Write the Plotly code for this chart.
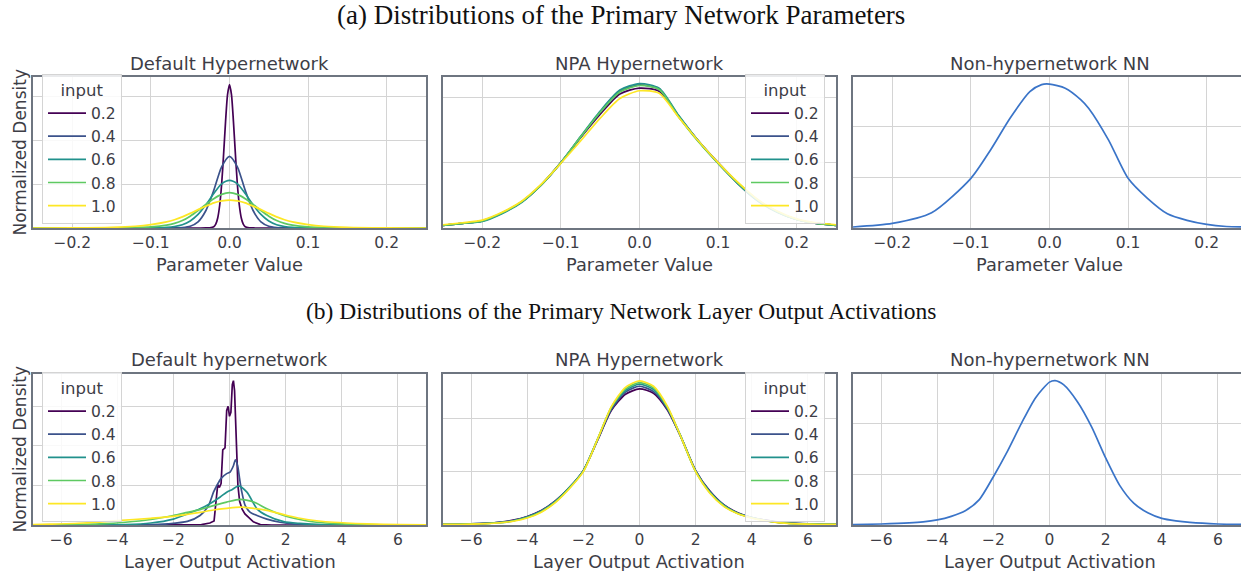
import plotly.graph_objects as go

W, H = 1241, 571

# ---------------- data ----------------
inputs = ["0.2", "0.4", "0.6", "0.8", "1.0"]
viridis = ["#440154", "#3b528b", "#21918c", "#5ec962", "#fde725"]
nn_color = "#3a74c8"

param_ticks = [-0.2, -0.1, 0.0, 0.1, 0.2]
param_ticktext = ["\u22120.2", "\u22120.1", "0.0", "0.1", "0.2"]
act_ticks = [-6, -4, -2, 0, 2, 4, 6]
act_ticktext = ["\u22126", "\u22124", "\u22122", "0", "2", "4", "6"]

# (a) Default Hypernetwork, parameter distributions
p1_x_narrow = [-0.25, -0.04, -0.03, -0.025, -0.02, -0.0175, -0.015, -0.0125, -0.01, -0.0075, -0.005, -0.0025, 0.0,
               0.0025, 0.005, 0.0075, 0.01, 0.0125, 0.015, 0.0175, 0.02, 0.025, 0.03, 0.04, 0.25]
p1_in02 = [0, 0, 0.001, 0.005, 0.03, 0.088, 0.23, 0.52, 1.00, 1.69, 2.44, 3.05, 3.28,
           3.05, 2.44, 1.69, 1.00, 0.52, 0.23, 0.088, 0.03, 0.005, 0.001, 0, 0]
p1_x = [-0.25, -0.2, -0.15, -0.12, -0.1, -0.08, -0.07, -0.06, -0.05, -0.04, -0.03, -0.02, -0.01, 0.0,
        0.01, 0.02, 0.03, 0.04, 0.05, 0.06, 0.07, 0.08, 0.1, 0.12, 0.15, 0.2, 0.25]
p1_in04 = [0, 0, 0, 0, 0, 0.001, 0.004, 0.012, 0.04, 0.14, 0.40, 0.86, 1.40, 1.64,
           1.40, 0.86, 0.40, 0.14, 0.04, 0.012, 0.004, 0.001, 0, 0, 0, 0, 0]
p1_in06 = [0, 0, 0, 0.001, 0.004, 0.016, 0.035, 0.075, 0.16, 0.31, 0.53, 0.79, 1.01, 1.09,
           1.01, 0.79, 0.53, 0.31, 0.16, 0.075, 0.035, 0.016, 0.004, 0.001, 0, 0, 0]
p1_in08 = [0, 0, 0.002, 0.01, 0.025, 0.065, 0.105, 0.17, 0.27, 0.40, 0.54, 0.67, 0.77, 0.81,
           0.77, 0.67, 0.54, 0.40, 0.27, 0.17, 0.105, 0.065, 0.025, 0.01, 0.002, 0, 0]
p1_in10 = [0, 0.003, 0.015, 0.04, 0.078, 0.14, 0.19, 0.255, 0.335, 0.42, 0.50, 0.575, 0.62, 0.64,
           0.62, 0.575, 0.50, 0.42, 0.335, 0.255, 0.19, 0.14, 0.078, 0.04, 0.015, 0.003, 0]

# (a) NPA Hypernetwork
p2_x = [-0.25, -0.225, -0.2, -0.175, -0.15, -0.125, -0.1, -0.075, -0.05, -0.025, 0.0,
        0.025, 0.05, 0.075, 0.1, 0.125, 0.15, 0.175, 0.2, 0.225, 0.25]
p2_in02 = [0.04, 0.07, 0.11, 0.23, 0.40, 0.66, 1.0, 1.38, 1.74, 2.05, 2.14, 2.09, 1.70, 1.33, 1.0, 0.69, 0.43, 0.25, 0.13, 0.07, 0.04]
p2_in04 = [0.04, 0.07, 0.11, 0.23, 0.40, 0.66, 1.0, 1.39, 1.77, 2.09, 2.19, 2.12, 1.71, 1.33, 0.99, 0.68, 0.42, 0.25, 0.13, 0.07, 0.04]
p2_in06 = [0.04, 0.07, 0.10, 0.22, 0.39, 0.66, 1.0, 1.40, 1.79, 2.11, 2.21, 2.14, 1.72, 1.33, 0.99, 0.68, 0.42, 0.24, 0.13, 0.07, 0.04]
p2_in08 = [0.04, 0.07, 0.11, 0.23, 0.40, 0.66, 1.0, 1.39, 1.77, 2.08, 2.18, 2.12, 1.70, 1.32, 0.99, 0.69, 0.43, 0.25, 0.13, 0.07, 0.04]
p2_in10 = [0.05, 0.08, 0.12, 0.24, 0.41, 0.67, 0.99, 1.33, 1.68, 1.98, 2.10, 2.06, 1.69, 1.33, 1.0, 0.70, 0.44, 0.26, 0.14, 0.08, 0.05]

# (a) Non-hypernetwork NN
p3_x = [-0.25, -0.2, -0.15, -0.1, -0.075, -0.05, -0.025, -0.01, 0.0, 0.02, 0.04, 0.05, 0.075,
        0.1, 0.125, 0.15, 0.175, 0.2, 0.225, 0.25]
p3_y = [0.02, 0.09, 0.30, 0.98, 1.54, 2.17, 2.69, 2.83, 2.84, 2.76, 2.53, 2.36, 1.74,
        0.98, 0.58, 0.28, 0.15, 0.07, 0.03, 0.02]

# (b) Default hypernetwork, activations
p4_x_in02 = [-7, -1.5, -1.0, -0.7, -0.55, -0.48, -0.42, -0.36, -0.3, -0.24, -0.16, -0.1, -0.05, 0.0, 0.05,
             0.1, 0.14, 0.18, 0.24, 0.3, 0.36, 0.45, 0.55, 0.7, 0.85, 1.1, 1.5, 7]
p4_in02 = [0, 0, 0.01, 0.05, 0.1, 0.6, 1.02, 0.95, 1.05, 1.9, 1.95, 2.9, 3.0, 2.75, 2.85,
           3.55, 3.65, 3.4, 2.0, 1.0, 0.6, 0.4, 0.28, 0.18, 0.08, 0.01, 0, 0]
p4_x_in04 = [-7, -3, -2.2, -1.5, -1.05, -0.75, -0.57, -0.45, -0.3, -0.1, 0.02, 0.14, 0.21, 0.29, 0.36,
             0.44, 0.56, 0.74, 0.98, 1.33, 1.8, 2.5, 3, 7]
p4_in04 = [0, 0.005, 0.03, 0.09, 0.24, 0.49, 0.83, 1.0, 1.18, 1.3, 1.34, 1.5, 1.65, 1.5, 1.17,
           0.83, 0.49, 0.32, 0.24, 0.15, 0.07, 0.01, 0, 0]
p4_x_in06 = [-7, -3.7, -2.8, -2, -1.5, -1.05, -0.7, -0.33, -0.1, 0.1, 0.32, 0.62, 0.98, 1.33, 1.93, 2.5, 3.1, 4.1, 7]
p4_in06 = [0, 0.01, 0.05, 0.15, 0.28, 0.41, 0.54, 0.71, 0.83, 0.9, 0.99, 0.83, 0.41, 0.24, 0.085, 0.04, 0.015, 0, 0]
p4_x_in08 = [-7, -5.8, -4.6, -3.7, -2.8, -2, -1.5, -1.05, -0.57, -0.1, 0.38, 0.86, 1.33, 1.93, 2.5, 3.1, 4, 4.9, 7]
p4_in08 = [0, 0.01, 0.03, 0.07, 0.14, 0.24, 0.32, 0.39, 0.49, 0.58, 0.65, 0.58, 0.41, 0.24, 0.14, 0.07, 0.03, 0.01, 0]
p4_x_in10 = [-7, -6.4, -5.2, -4, -2.8, -2, -1.05, -0.57, -0.1, 0.38, 0.86, 1.33, 2.05, 2.76, 3.7, 4.9, 6.1, 7]
p4_in10 = [0.01, 0.02, 0.05, 0.11, 0.17, 0.22, 0.32, 0.38, 0.42, 0.45, 0.42, 0.37, 0.24, 0.14, 0.07, 0.03, 0.01, 0.005]

# (b) NPA Hypernetwork, activations
p5_x = [-7, -6, -5, -4.5, -4, -3.5, -3, -2.5, -2, -1.5, -1, -0.5, 0, 0.5, 1, 1.5, 2, 2.5, 3, 3.5, 4, 4.5, 5, 6, 7]
p5_in02 = [0.01, 0.02, 0.05, 0.09, 0.16, 0.27, 0.45, 0.70, 1.02, 1.58, 2.15, 2.45, 2.55, 2.47, 2.15, 1.62, 1.02, 0.64, 0.38, 0.23, 0.14, 0.09, 0.05, 0.02, 0.01]
p5_in04 = [0.01, 0.02, 0.05, 0.085, 0.155, 0.265, 0.445, 0.70, 1.02, 1.59, 2.17, 2.49, 2.60, 2.50, 2.17, 1.62, 1.02, 0.63, 0.37, 0.22, 0.14, 0.085, 0.045, 0.02, 0.01]
p5_in06 = [0.01, 0.02, 0.045, 0.08, 0.15, 0.26, 0.44, 0.70, 1.02, 1.60, 2.20, 2.52, 2.64, 2.54, 2.19, 1.63, 1.01, 0.62, 0.37, 0.22, 0.14, 0.08, 0.045, 0.02, 0.01]
p5_in08 = [0.01, 0.018, 0.042, 0.075, 0.14, 0.25, 0.43, 0.69, 1.01, 1.60, 2.21, 2.55, 2.67, 2.57, 2.20, 1.62, 1.00, 0.61, 0.36, 0.215, 0.135, 0.08, 0.042, 0.018, 0.01]
p5_in10 = [0.01, 0.015, 0.04, 0.07, 0.13, 0.24, 0.42, 0.68, 1.0, 1.60, 2.22, 2.58, 2.70, 2.60, 2.22, 1.62, 1.0, 0.60, 0.35, 0.21, 0.13, 0.08, 0.04, 0.015, 0.01]

# (b) Non-hypernetwork NN, activations
p6_x = [-7, -6, -5, -4.5, -4, -3.5, -3, -2.5, -2, -1.5, -1, -0.5, 0, 0.2, 0.5, 1, 1.5, 2, 2.5, 3, 3.5, 4, 4.5, 5, 6, 7]
p6_y = [0.01, 0.02, 0.04, 0.06, 0.10, 0.17, 0.28, 0.50, 0.95, 1.45, 2.0, 2.5, 2.81, 2.84, 2.76, 2.42, 1.93, 1.32, 0.78, 0.43, 0.24, 0.13, 0.08, 0.05, 0.02, 0.01]

panel_titles = ["Default Hypernetwork", "NPA Hypernetwork", "Non-hypernetwork NN",
                "Default hypernetwork", "NPA Hypernetwork", "Non-hypernetwork NN"]
row_titles = ["(a) Distributions of the Primary Network Parameters",
              "(b) Distributions of the Primary Network Layer Output Activations"]
x_titles = ["Parameter Value", "Layer Output Activation"]
y_title = "Normalized Density"

# ---------------- layout geometry ----------------
col_px = [(33, 426), (443, 836), (853, 1246)]
row_px = [(77, 228), (374, 525)]
y_top = [3.455, 2.31, 2.98, 3.82, 2.83, 2.97]
x_full = [(-0.25, 0.25), (-7.0, 7.0)]

TEXT = "#3d3d46"
FRAME = "#6e7580"
GRID = "#d4d4d4"
FONT = "DejaVu Sans"

fig = go.Figure()

multi = {
    0: ([p1_x_narrow, p1_x, p1_x, p1_x, p1_x], [p1_in02, p1_in04, p1_in06, p1_in08, p1_in10], "legend"),
    1: ([p2_x] * 5, [p2_in02, p2_in04, p2_in06, p2_in08, p2_in10], "legend2"),
    3: ([p4_x_in02, p4_x_in04, p4_x_in06, p4_x_in08, p4_x_in10], [p4_in02, p4_in04, p4_in06, p4_in08, p4_in10], "legend3"),
    4: ([p5_x] * 5, [p5_in02, p5_in04, p5_in06, p5_in08, p5_in10], "legend4"),
}
single = {2: (p3_x, p3_y), 5: (p6_x, p6_y)}

for p in range(6):
    ax = "" if p == 0 else str(p + 1)
    if p in multi:
        xs, ys, leg = multi[p]
        for i in range(5):
            shape = "linear" if (p == 3 and i == 0) else "spline"
            fig.add_trace(go.Scatter(
                x=xs[i], y=ys[i], mode="lines", name=inputs[i],
                line=dict(color=viridis[i], width=1.7, shape=shape, smoothing=0.7),
                xaxis="x" + ax, yaxis="y" + ax, legend=leg, showlegend=True))
    else:
        xs, ys = single[p]
        fig.add_trace(go.Scatter(
            x=xs, y=ys, mode="lines", line=dict(color=nn_color, width=1.7, shape="spline", smoothing=0.7),
            xaxis="x" + ax, yaxis="y" + ax, showlegend=False))

layout = {}
for p in range(6):
    r, c = divmod(p, 3)
    ax = "" if p == 0 else str(p + 1)
    x0p, x1p = col_px[c]
    y0p, y1p = row_px[r]
    lo, hi = x_full[r]
    if x1p > W:
        hi = lo + (hi - lo) * (W - x0p) / (x1p - x0p)
        x1p = W
    layout["xaxis" + ax] = dict(
        domain=[x0p / W, x1p / W], anchor="y" + ax, range=[lo, hi],
        tickvals=param_ticks if r == 0 else act_ticks,
        ticktext=param_ticktext if r == 0 else act_ticktext,
        showgrid=True, gridcolor=GRID, gridwidth=1.4, zeroline=False,
        showline=True, linecolor=FRAME, linewidth=1.5, mirror=True, ticks="",
        tickfont=dict(family=FONT, size=15.5, color=TEXT))
    layout["yaxis" + ax] = dict(
        domain=[1 - y1p / H, 1 - y0p / H], anchor="x" + ax, range=[0, y_top[p]],
        tickvals=[0, 1, 2, 3], showticklabels=False,
        showgrid=True, gridcolor=GRID, gridwidth=1.4, zeroline=False,
        showline=True, linecolor=FRAME, linewidth=1.5, mirror=(c != 2), ticks="")

annotations = []
for p in range(6):
    r, c = divmod(p, 3)
    xc = (col_px[c][0] + col_px[c][1]) / 2 / W
    annotations.append(dict(text=panel_titles[p], x=xc, y=1 - (row_px[r][0] - 14) / H,
                            xref="paper", yref="paper", xanchor="center", yanchor="middle",
                            showarrow=False, font=dict(family=FONT, size=18, color=TEXT)))
    annotations.append(dict(text=x_titles[r], x=xc, y=1 - (row_px[r][1] + 36) / H,
                            xref="paper", yref="paper", xanchor="center", yanchor="middle",
                            showarrow=False, font=dict(family=FONT, size=17.8, color=TEXT)))
for r in range(2):
    annotations.append(dict(text=y_title, x=19 / W, y=1 - (row_px[r][0] + row_px[r][1]) / 2 / H,
                            xref="paper", yref="paper", xanchor="center", yanchor="middle", textangle=-90,
                            showarrow=False, font=dict(family=FONT, size=17, color=TEXT)))
suptitle_y = [15, 311]
suptitle_size = [27, 23.5]
for r in range(2):
    annotations.append(dict(text=row_titles[r], x=0.5, y=1 - suptitle_y[r] / H,
                            xref="paper", yref="paper", xanchor="center", yanchor="middle",
                            showarrow=False, font=dict(family="Liberation Serif", size=suptitle_size[r], color="#111111")))

legend_style = dict(bgcolor="rgba(255,255,255,0.85)", bordercolor="#d4d4d4", borderwidth=1,
                    font=dict(family=FONT, size=15.5, color=TEXT),
                    title=dict(text="input", side="top center", font=dict(family=FONT, size=16.5, color=TEXT)),
                    xanchor="left", yanchor="top", itemwidth=38, tracegroupgap=0)
leg_pos = {"legend": (42, 74), "legend2": (745, 74), "legend3": (42, 372), "legend4": (745, 372)}
for k, (lx, ly) in leg_pos.items():
    layout[k] = dict(legend_style, x=lx / W, y=1 - ly / H)

fig.update_layout(width=W, height=H, margin=dict(l=0, r=0, t=0, b=0),
                  paper_bgcolor="white", plot_bgcolor="white",
                  annotations=annotations, font=dict(family=FONT, color=TEXT), **layout)

fig.write_html("out.html")
